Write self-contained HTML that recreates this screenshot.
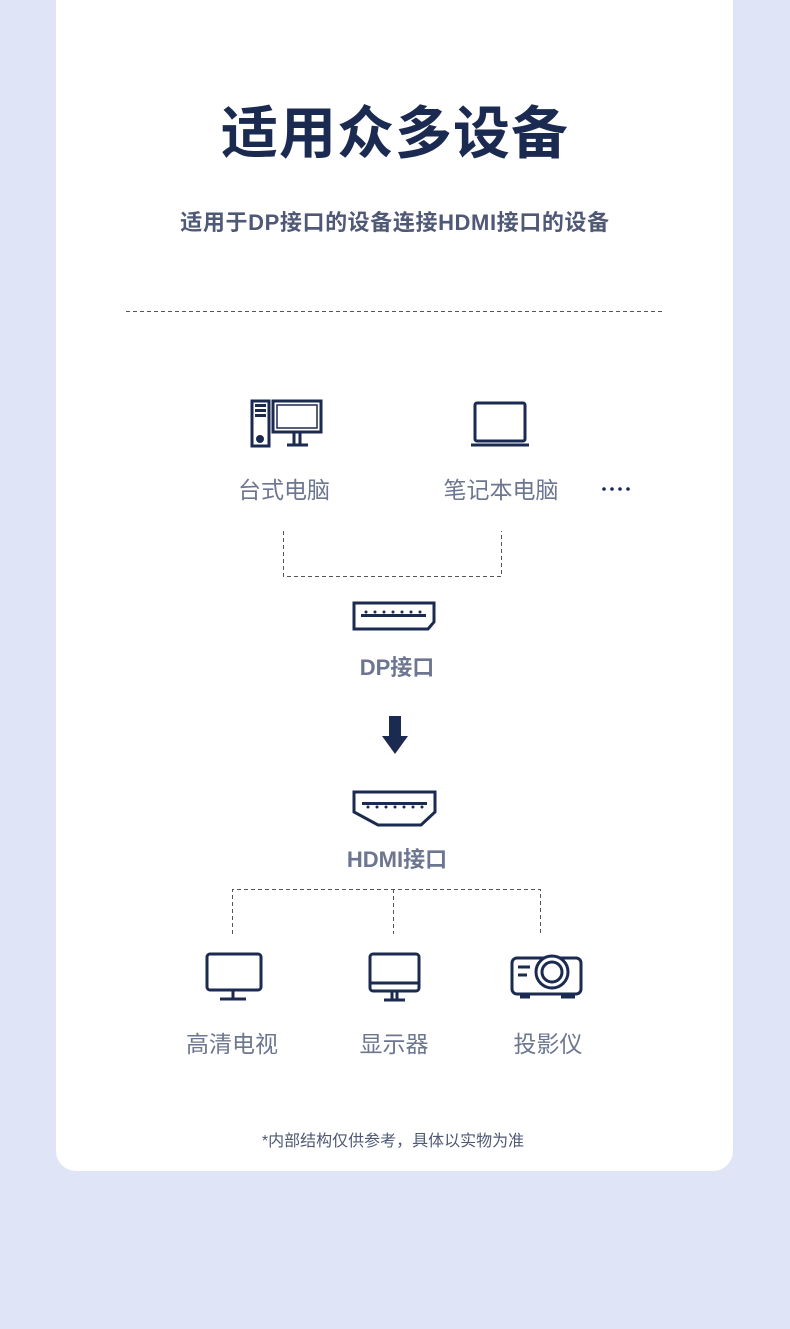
<!DOCTYPE html>
<html><head><meta charset="utf-8"><style>
body{margin:0;width:790px;height:1329px;background:#dfe4f7;position:relative;overflow:hidden;font-family:"Liberation Sans","Noto Sans CJK SC",sans-serif}
.card{position:absolute;left:56px;top:-20px;width:677px;height:1191px;background:#fff;border-radius:20px}
.t{position:absolute;white-space:nowrap;transform:translateX(-50%)}
</style></head><body>
<div class="card"></div>
<div class="t" style="left:395px;top:88px;font-size:57px;font-weight:bold;color:#1b2a50;letter-spacing:1px">适用众多设备</div>
<div class="t" style="left:395px;top:205px;font-size:22px;font-weight:bold;color:#4f5875;letter-spacing:0.6px">适用于DP接口的设备连接HDMI接口的设备</div>
<svg style="position:absolute;left:0;top:0" width="790" height="1329">
<g stroke="#555" stroke-width="1" fill="none" stroke-dasharray="4,3">
<line x1="126" y1="311.5" x2="662" y2="311.5"/>
<path d="M283.5 531V576.5H501.5V531"/>
<path d="M232.5 934V889.5H540.5V934M393.5 889V934"/>
</g>
<g stroke="#1b2a50" stroke-width="3" fill="none">
<rect x="252" y="401" width="17" height="45"/>
<rect x="273" y="401" width="48" height="31"/>
<rect x="277" y="405" width="40" height="23" stroke-width="1.5"/>
<line x1="294" y1="432" x2="294" y2="444"/><line x1="300" y1="432" x2="300" y2="444"/>
<line x1="287" y1="445" x2="308" y2="445"/>
<rect x="475" y="403" width="50" height="38" rx="2"/>
<path d="M471 445H529"/>
<path d="M354 603H434V622L428 629H354Z"/>
<path d="M354 792H435V812L421 825H378L354 812Z"/>
<rect x="207" y="954" width="54" height="36" rx="3"/>
<line x1="233" y1="990" x2="233" y2="998"/><line x1="220" y1="999" x2="246" y2="999"/>
<rect x="370" y="954" width="49" height="37" rx="3"/>
<line x1="371" y1="983" x2="418" y2="983"/>
<line x1="392" y1="991" x2="392" y2="999"/><line x1="397" y1="991" x2="397" y2="999"/>
<line x1="384" y1="1000" x2="405" y2="1000"/>
<rect x="512" y="958" width="69" height="36" rx="5"/>
<circle cx="552" cy="972" r="16" fill="#fff"/><circle cx="552" cy="972" r="10"/>
<line x1="518" y1="967" x2="530" y2="967"/><line x1="518" y1="975" x2="527" y2="975"/>
<line x1="520" y1="997" x2="530" y2="997"/><line x1="561" y1="997" x2="575" y2="997"/>
</g>
<g fill="#1b2a50">
<rect x="255" y="404" width="11" height="3"/><rect x="255" y="409" width="11" height="3"/><rect x="255" y="414" width="11" height="3"/>
<circle cx="260" cy="439" r="4"/>
<rect x="361" y="614" width="65" height="3"/>
<rect x="362" y="802" width="65" height="3"/>
<path d="M389 716H401V736H408L395 754L382 736H389Z"/>
<circle cx="604" cy="489" r="1.8"/><circle cx="612" cy="489" r="1.8"/><circle cx="620" cy="489" r="1.8"/><circle cx="628" cy="489" r="1.8"/>
</g>
<g fill="#1b2a50"><circle cx="366" cy="612" r="1.5"/><circle cx="375" cy="612" r="1.5"/><circle cx="384" cy="612" r="1.5"/><circle cx="393" cy="612" r="1.5"/><circle cx="402" cy="612" r="1.5"/><circle cx="411" cy="612" r="1.5"/><circle cx="420" cy="612" r="1.5"/>
<circle cx="368" cy="807" r="1.5"/><circle cx="377" cy="807" r="1.5"/><circle cx="386" cy="807" r="1.5"/><circle cx="395" cy="807" r="1.5"/><circle cx="404" cy="807" r="1.5"/><circle cx="413" cy="807" r="1.5"/><circle cx="422" cy="807" r="1.5"/></g>
</svg>
<div class="t" style="left:284px;top:471px;font-size:23px;color:#6d7690">台式电脑</div>
<div class="t" style="left:501px;top:471px;font-size:23px;color:#6d7690">笔记本电脑</div>
<div class="t" style="left:397px;top:650px;font-size:22px;font-weight:bold;color:#6d7690">DP接口</div>
<div class="t" style="left:397px;top:842px;font-size:22px;font-weight:bold;color:#6d7690">HDMI接口</div>
<div class="t" style="left:232px;top:1025px;font-size:23px;color:#6d7690">高清电视</div>
<div class="t" style="left:394px;top:1025px;font-size:23px;color:#6d7690">显示器</div>
<div class="t" style="left:548px;top:1025px;font-size:23px;color:#6d7690">投影仪</div>
<div class="t" style="left:393px;top:1127px;font-size:16px;color:#4f5875">*内部结构仅供参考，具体以实物为准</div>
</body></html>
